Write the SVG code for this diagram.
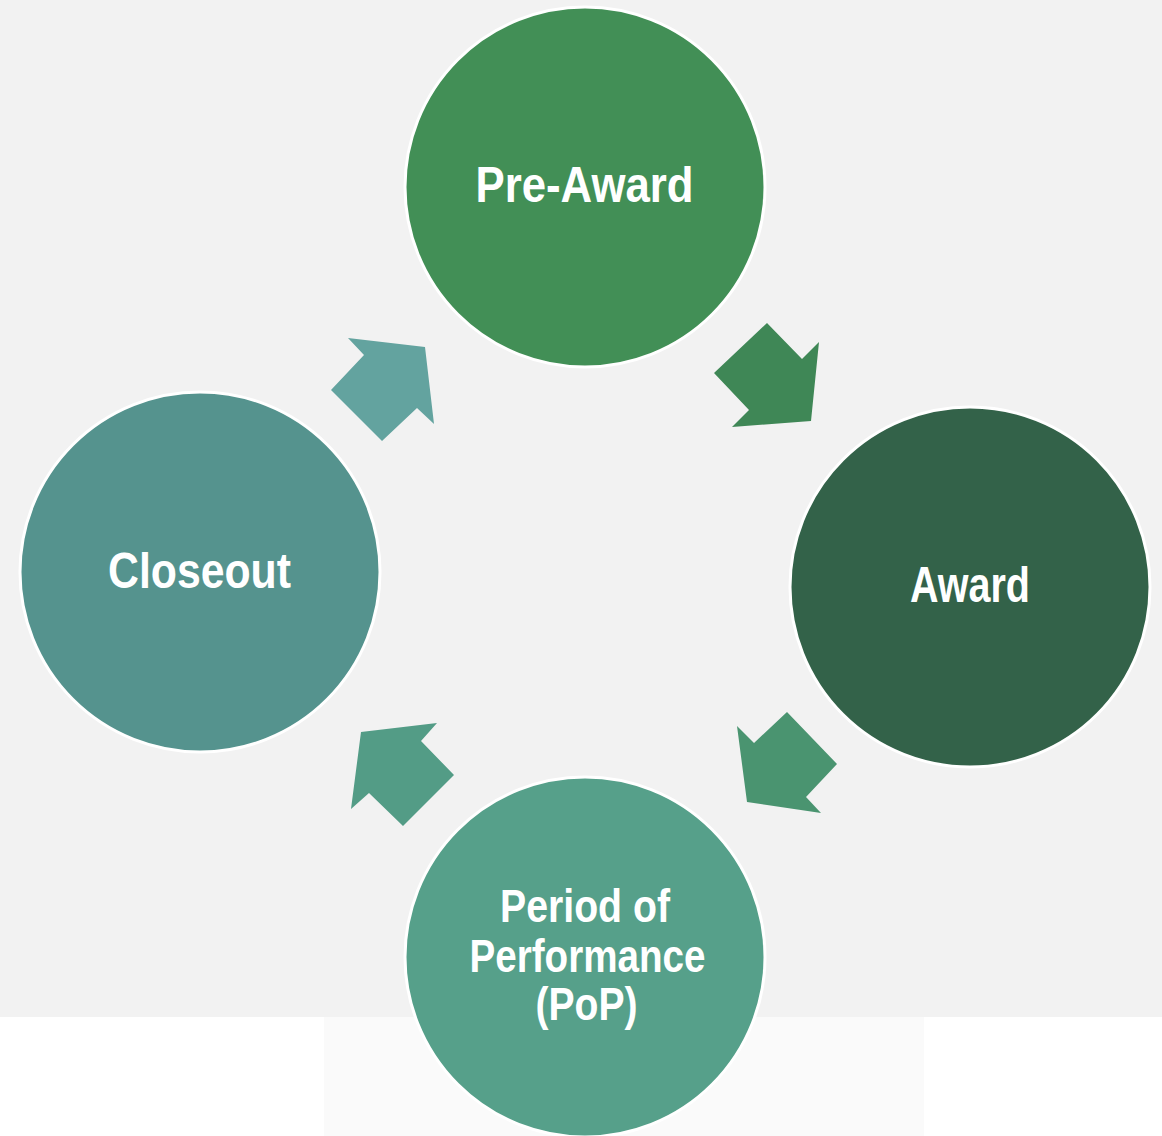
<svg xmlns="http://www.w3.org/2000/svg" width="1162" height="1136" viewBox="0 0 1162 1136">
  <style>
    .node circle { stroke: #ffffff; stroke-width: 3; }
    .label { font-family: "Liberation Sans", Arial, sans-serif; font-weight: bold; fill: #ffffff; text-anchor: middle; }
    .big { font-size: 50px; }
    .small { font-size: 46px; }
  </style>

  <!-- backdrop -->
  <rect x="0" y="0" width="1162" height="1136" fill="#ffffff"/>
  <rect x="0" y="0" width="1162" height="1017" fill="#f2f2f2"/>
  <rect x="324" y="1017" width="600" height="119" fill="#fafafa"/>

  <!-- cycle arrows -->
  <g id="connectors">
    <polygon id="arrow-preaward-award" fill="#3f8756"
      points="767,323 802,359 819,342 811,421 732,427 749,410 714,373"/>
    <polygon id="arrow-award-pop" fill="#4a9470"
      points="737,726 754,743 787,712 837,764 806,797 821,813 747,802"/>
    <polygon id="arrow-pop-closeout" fill="#539c86"
      points="361,732 437,723 421,741 454,775 403,826 369,793 351,809"/>
    <polygon id="arrow-closeout-preaward" fill="#63a39f"
      points="348,338 425,347 434,424 417,408 382,441 331,390 364,355"/>
  </g>

  <!-- stages -->
  <g id="pre-award" class="node">
    <circle cx="585" cy="187" r="180" fill="#428f56"/>
    <text class="label big" x="584.5" y="202" textLength="218" lengthAdjust="spacingAndGlyphs">Pre-Award</text>
  </g>

  <g id="award" class="node">
    <circle cx="970" cy="587" r="180" fill="#336249"/>
    <text class="label big" x="970" y="602" textLength="120" lengthAdjust="spacingAndGlyphs">Award</text>
  </g>

  <g id="period-of-performance" class="node">
    <circle cx="585" cy="957" r="180" fill="#56a08a"/>
    <text class="label small" x="585" y="921.5" textLength="170" lengthAdjust="spacingAndGlyphs">Period of</text>
    <text class="label small" x="587.5" y="971.5" textLength="236" lengthAdjust="spacingAndGlyphs">Performance</text>
    <text class="label small" x="586.5" y="1020" textLength="102" lengthAdjust="spacingAndGlyphs">(PoP)</text>
  </g>

  <g id="closeout" class="node">
    <circle cx="200" cy="572" r="180" fill="#55938e"/>
    <text class="label big" x="199.5" y="588" textLength="183" lengthAdjust="spacingAndGlyphs">Closeout</text>
  </g>
</svg>
